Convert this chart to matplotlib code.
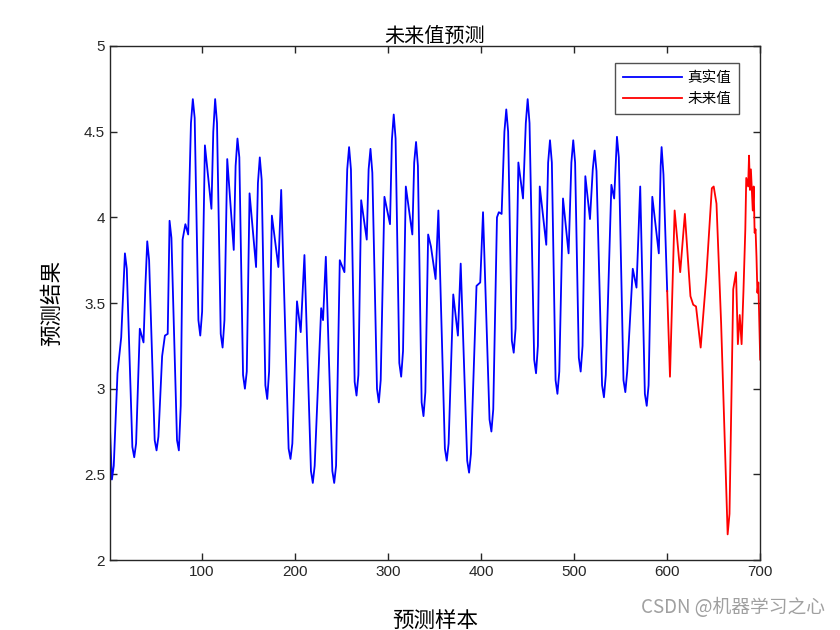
import matplotlib.pyplot as plt
import numpy as np

plt.rcParams['font.family'] = ['Noto Sans CJK SC', 'DejaVu Sans']

# values (sample index, value)
true_x = [1, 3, 5, 9, 13, 15, 17, 19, 25, 27, 29, 33, 37, 39, 41, 43, 49, 51, 53, 57,
          60, 63, 65, 67, 73, 75, 77, 79, 82, 85, 88, 90, 92, 96, 98, 100, 103, 110, 112,
          114, 116, 120, 122, 124, 127, 134, 136, 138, 140, 144, 146, 148, 151, 158, 160,
          162, 164, 168, 170, 172, 175, 182, 185, 193, 195, 197, 202, 206, 210, 217, 219,
          221, 228, 230, 233, 240, 242, 244, 248, 253, 256, 258, 260, 264, 266, 268, 271,
          277, 279, 281, 283, 288, 290, 292, 296, 302, 304, 306, 308, 312, 314, 316, 319,
          326, 328, 330, 332, 336, 338, 340, 343, 346, 351, 354, 361, 363, 365, 370, 375,
          378, 385, 387, 389, 395, 399, 402, 409, 411, 413, 417, 419, 422, 425, 427, 429,
          433, 435, 437, 440, 445, 448, 450, 452, 457, 459, 461, 463, 470, 472, 474, 476,
          480, 482, 484, 488, 494, 497, 499, 501, 505, 507, 509, 512, 517, 520, 522, 524,
          530, 532, 534, 540, 543, 545, 546, 548, 553, 555, 557, 563, 567, 571, 576, 578,
          580, 584, 591, 593, 594, 596, 600]
true_y = [2.76, 2.47, 2.55, 3.09, 3.30, 3.55, 3.79, 3.70, 2.66, 2.60, 2.68, 3.35, 3.27,
          3.60, 3.86, 3.75, 2.70, 2.64, 2.72, 3.19, 3.31, 3.32, 3.98, 3.88, 2.70, 2.64,
          2.90, 3.87, 3.96, 3.90, 4.55, 4.69, 4.58, 3.40, 3.31, 3.45, 4.42, 4.05, 4.50,
          4.69, 4.55, 3.32, 3.24, 3.40, 4.34, 3.81, 4.30, 4.46, 4.35, 3.08, 3.00, 3.10,
          4.14, 3.71, 4.20, 4.35, 4.22, 3.02, 2.94, 3.10, 4.01, 3.71, 4.16, 2.65, 2.59,
          2.68, 3.51, 3.33, 3.78, 2.52, 2.45, 2.55, 3.47, 3.40, 3.77, 2.52, 2.45, 2.55,
          3.75, 3.68, 4.28, 4.41, 4.28, 3.04, 2.96, 3.08, 4.10, 3.87, 4.28, 4.40, 4.26,
          3.00, 2.92, 3.05, 4.12, 3.96, 4.45, 4.60, 4.46, 3.15, 3.07, 3.22, 4.18, 3.90,
          4.32, 4.44, 4.30, 2.92, 2.84, 2.98, 3.90, 3.83, 3.64, 4.04, 2.65, 2.58, 2.68,
          3.55, 3.31, 3.73, 2.58, 2.51, 2.62, 3.60, 3.62, 4.03, 2.82, 2.75, 2.88, 4.00,
          4.03, 4.02, 4.50, 4.63, 4.50, 3.28, 3.21, 3.35, 4.32, 4.11, 4.55, 4.69, 4.55,
          3.17, 3.09, 3.25, 4.18, 3.84, 4.32, 4.45, 4.32, 3.05, 2.97, 3.10, 4.11, 3.79,
          4.32, 4.45, 4.32, 3.18, 3.10, 3.25, 4.24, 3.99, 4.28, 4.39, 4.27, 3.02, 2.95,
          3.08, 4.19, 4.11, 4.35, 4.47, 4.35, 3.05, 2.98, 3.10, 3.70, 3.59, 4.18, 2.97,
          2.90, 3.02, 4.12, 3.79, 4.30, 4.41, 4.25, 3.57]

future_x = [600, 603, 608, 614, 619, 625, 628, 631, 636, 642, 648, 650, 653, 658, 665, 667,
            671, 674, 676, 678, 680, 682, 684, 685, 687, 688, 689, 690, 692, 693, 694, 695,
            696, 697, 698, 700]
future_y = [3.57, 3.07, 4.04, 3.68, 4.02, 3.54, 3.49, 3.48, 3.24, 3.65, 4.17, 4.18, 4.08,
            3.38, 2.15, 2.27, 3.58, 3.68, 3.26, 3.43, 3.26, 3.57, 3.93, 4.23, 4.18, 4.36,
            4.16, 4.28, 4.04, 4.18, 3.91, 3.93, 3.77, 3.56, 3.62, 3.17]

fig = plt.figure(figsize=(8.4, 6.3), dpi=100)
ax = fig.add_axes([0.131, 0.111, 0.774, 0.816])

ax.plot(true_x, true_y, color='blue', lw=1.3, label='真实值')
ax.plot(future_x, future_y, color='red', lw=1.3, label='未来值')

ax.set_xlim(1, 700)
ax.set_ylim(2, 5)
ax.set_xticks([100, 200, 300, 400, 500, 600, 700])
ax.set_yticks([2, 2.5, 3, 3.5, 4, 4.5, 5])
ax.set_yticklabels(['2', '2.5', '3', '3.5', '4', '4.5', '5'])
ax.tick_params(direction='in', top=True, right=True, length=5, width=1,
               labelsize=11, colors='#262626')
for lab in ax.get_xticklabels() + ax.get_yticklabels():
    lab.set_family(['Liberation Sans', 'DejaVu Sans'])
for s in ax.spines.values():
    s.set_color('#262626')
    s.set_linewidth(1)

ax.set_title('未来值预测', fontsize=14.5, pad=3)
ax.set_xlabel('预测样本', fontsize=15.5, labelpad=22)
ax.set_ylabel('预测结果', fontsize=15.5, labelpad=15)

leg = ax.legend(loc='upper right', bbox_to_anchor=(0.979, 0.981), fontsize=10.5,
                frameon=True, fancybox=False, handlelength=4.0, borderpad=0.55,
                labelspacing=0.5, handletextpad=0.4)
leg.get_frame().set_edgecolor('#262626')
leg.get_frame().set_linewidth(1)

fig.text(0.982, 0.035, 'CSDN @机器学习之心', ha='right', va='center',
         fontsize=13.5, color='#a0a0a0')

fig.savefig('out.png', dpi=100)
